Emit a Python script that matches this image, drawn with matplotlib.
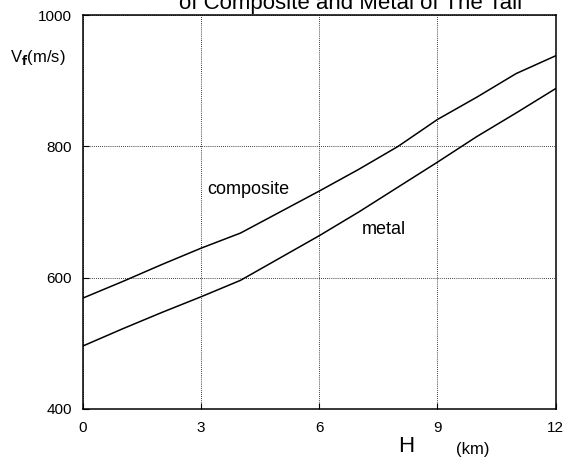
import matplotlib
matplotlib.use("Agg")
import matplotlib.pyplot as plt

H = [0, 1, 2, 3, 4, 5, 6, 7, 8, 9, 10, 11, 12]
composite = [569, 594, 620, 645, 668, 700, 732, 765, 800, 841, 875, 911, 938]
metal = [496, 522, 547, 571, 596, 630, 664, 700, 738, 776, 815, 851, 888]
xticks = [0, 3, 6, 9, 12]
yticks = [400, 600, 800, 1000]

plt.rcParams['font.family'] = ['Liberation Sans', 'DejaVu Sans']
fig = plt.figure(figsize=(5.66, 4.58), dpi=100)
ax = fig.add_axes([0.1466, 0.107, 0.835, 0.860])
ax.plot(H, composite, color='black', lw=1.1)
ax.plot(H, metal, color='black', lw=1.1)
ax.set_xlim(0, 12)
ax.set_ylim(400, 1000)
ax.set_xticks(xticks)
ax.set_yticks(yticks)
ax.set_xticklabels([str(t) for t in xticks], fontsize=11)
ax.set_yticklabels([str(t) for t in yticks], fontsize=11)
ax.tick_params(axis='x', direction='in', length=4, width=0.8, pad=9)
ax.tick_params(axis='y', direction='in', length=4, width=0.8, pad=8)
ax.grid(True, linestyle=(0, (1, 1.5)), color='black', lw=0.6)
for s in ax.spines.values():
    s.set_linewidth(1.1)

ax.text(3.15, 734, 'composite', fontsize=13, va='center', ha='left')
ax.text(7.08, 674, 'metal', fontsize=13, va='center', ha='left')

fig.text(0.018, 0.875, r'V$_{\mathbf{f}}$(m/s)', fontsize=12, ha='left', va='center')
fig.text(0.703, 0.003, 'H', fontsize=16, ha='left', va='bottom')
fig.text(0.805, 0.003, '(km)', fontsize=12, ha='left', va='bottom')
fig.text(0.62, 0.980, 'of Composite and Metal of The Tail', fontsize=16, ha='center', va='baseline')

fig.savefig('out.png', dpi=100)
